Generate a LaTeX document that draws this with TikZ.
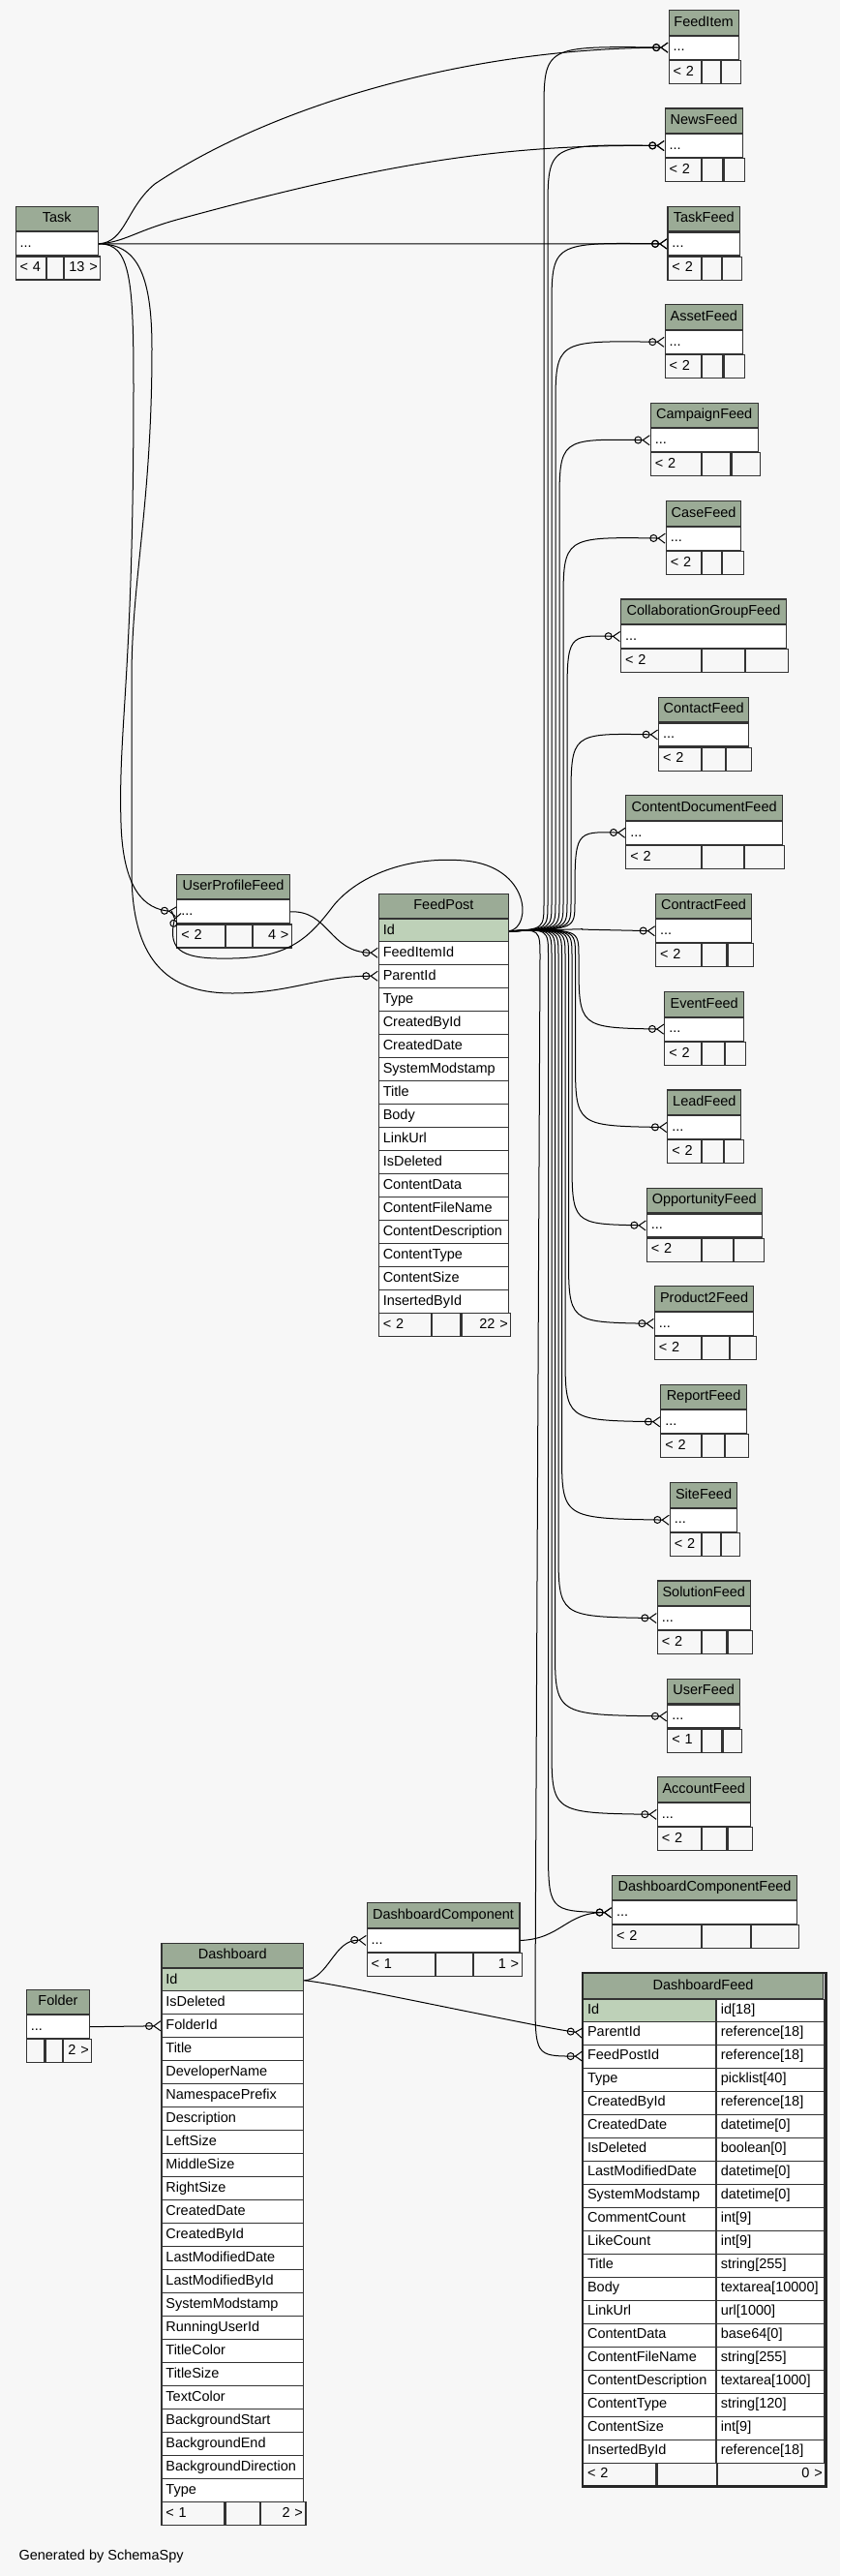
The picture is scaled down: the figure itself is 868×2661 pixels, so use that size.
\documentclass[tikz,border=0pt]{standalone}
\usepackage{fontspec}
\setmainfont{Liberation Sans}
\usetikzlibrary{arrows.meta}
\definecolor{pagebg}{HTML}{F7F7F7}
\definecolor{headgreen}{HTML}{9BAB96}
\definecolor{keygreen}{HTML}{BED1B8}
\tikzset{
  cell/.style={draw=black!80, line width=1.1pt, anchor=north west, inner xsep=4.5pt, inner ysep=0pt,
    minimum height=24pt, text height=10.5pt, text depth=3pt, font=\fontsize{14.5}{17}\selectfont},
  headcell/.style={cell, fill=headgreen, minimum height=25.5pt, align=center},
  rowcell/.style={cell, fill=white, align=left},
  keycell/.style={cell, fill=keygreen, align=left},
  footcell/.style={cell, fill=pagebg, align=left},
  footright/.style={cell, fill=pagebg, align=right, inner xsep=3pt},
  rel/.style={draw=black, line width=1pt,
    -{Circle[open,length=8pt,width=8pt,line width=1pt] Straight Barb[reversed,length=7pt,width=10pt,line width=1pt]}}
}
\begin{document}
\begin{tikzpicture}[x=1pt,y=-1pt]
\useasboundingbox (0,0) rectangle (868,2661);
\fill[pagebg] (0,0) rectangle (868,2661);
% FeedPost
\node[headcell, text width=125.3pt] (feedpost) at (390.7,922.7) {FeedPost};
\node[keycell, text width=125.3pt] (feedpost-1) at (feedpost.south west) {Id};
\foreach \fld [count=\k from 2] in {FeedItemId,ParentId,Type,CreatedById,CreatedDate,SystemModstamp,Title,Body,LinkUrl,IsDeleted,ContentData,ContentFileName,ContentDescription,ContentType,ContentSize,InsertedById}
  \node[rowcell, text width=125.3pt] (feedpost-\k) at (390.7,{947.7+24*(\k-1)}) {\fld};
\node[footcell, text width=45.3pt] (feedpost-f1) at (390.7,1355.7) {<~2};
\node[footcell, text width=20.3pt] (feedpost-f2) at (feedpost-f1.north east) {};
\node[footright, text width=44.7pt] (feedpost-f3) at (feedpost-f2.north east) {22~>};
% Task
\node[headcell, text width=76.5pt] (task) at (15.5,212.7) {Task};
\node[rowcell, text width=76.5pt] (task-r) at (task.south west) {...};
\node[footcell, text width=22.5pt] (task-f1) at (task-r.south west) {<~4};
\node[footcell, text width=7.7pt] (task-f2) at (task-f1.north east) {};
\node[footright, text width=31.3pt] (task-f3) at (task-f2.north east) {13~>};
% UserProfileFeed
\node[headcell, text width=107.4pt] (upf) at (182.3,902.7) {UserProfileFeed};
\node[rowcell, text width=107.4pt] (upf-r) at (upf.south west) {...};
\node[footcell, text width=40.4pt] (upf-f1) at (upf-r.south west) {<~2};
\node[footcell, text width=18pt] (upf-f2) at (upf-f1.north east) {};
\node[footright, text width=34pt] (upf-f3) at (upf-f2.north east) {4~>};
% Folder
\node[headcell, text width=56.3pt] (folder) at (26.8,2054.5) {Folder};
\node[rowcell, text width=56.3pt] (folder-r) at (folder.south west) {...};
\node[footcell, text width=9.6pt] (folder-f1) at (folder-r.south west) {};
\node[footcell, text width=8.1pt] (folder-f2) at (folder-f1.north east) {};
\node[footright, text width=23.6pt] (folder-f3) at (folder-f2.north east) {2~>};
% Dashboard
\node[headcell, text width=137.8pt] (dash) at (166.4,2006.7) {Dashboard};
\node[keycell, text width=137.8pt] (dash-1) at (dash.south west) {Id};
\foreach \fld [count=\k from 2] in {IsDeleted,FolderId,Title,DeveloperName,NamespacePrefix,Description,LeftSize,MiddleSize,RightSize,CreatedDate,CreatedById,LastModifiedDate,LastModifiedById,SystemModstamp,RunningUserId,TitleColor,TitleSize,TextColor,BackgroundStart,BackgroundEnd,BackgroundDirection,Type}
  \node[rowcell, text width=137.8pt] (dash-\k) at (166.4,{2032.2+24*(\k-1)}) {\fld};
\node[footcell, text width=56pt] (dash-f1) at (166.4,2584.2) {<~1};
\node[footcell, text width=26pt] (dash-f2) at (dash-f1.north east) {};
\node[footright, text width=40.8pt] (dash-f3) at (dash-f2.north east) {2~>};
% DashboardComponent
\node[headcell, text width=148.8pt] (dcomp) at (378.6,1965.3) {DashboardComponent};
\node[rowcell, text width=148.8pt] (dcomp-r) at (dcomp.south west) {...};
\node[footcell, text width=61.4pt] (dcomp-f1) at (dcomp-r.south west) {<~1};
\node[footcell, text width=28.4pt] (dcomp-f2) at (dcomp-f1.north east) {};
\node[footright, text width=44pt] (dcomp-f3) at (dcomp-f2.north east) {1~>};
% DashboardFeed
\node[headcell, text width=239pt] (dfeed) at (602,2038) {DashboardFeed};
\node[keycell, text width=127.7pt] (dfeed-1) at (dfeed.south west) {Id};
\node[rowcell, text width=102.3pt] (dfeed-1-t) at (dfeed-1.north east) {id[18]};
\foreach \fld/\typ [count=\k from 2] in {ParentId/reference[18],FeedPostId/reference[18],Type/picklist[40],CreatedById/reference[18],CreatedDate/datetime[0],IsDeleted/boolean[0],LastModifiedDate/datetime[0],SystemModstamp/datetime[0],CommentCount/int[9],LikeCount/int[9],Title/string[255],Body/textarea[10000],LinkUrl/url[1000],ContentData/base64[0],ContentFileName/string[255],ContentDescription/textarea[1000],ContentType/string[120],ContentSize/int[9],InsertedById/reference[18]}{
  \node[rowcell, text width=127.7pt] (dfeed-\k) at (602,{2063.5+24*(\k-1)}) {\fld};
  \node[rowcell, text width=102.3pt] (dfeed-\k-t) at (dfeed-\k.north east) {\typ};
}
\node[footcell, text width=66.3pt] (dfeed-f1) at (602,2543.5) {<~2};
\node[footcell, text width=52.4pt] (dfeed-f2) at (dfeed-f1.north east) {};
\node[footright, text width=105.3pt] (dfeed-f3) at (dfeed-f2.north east) {0~>};
\draw[line width=2.8pt, black!85] (dfeed.north west) rectangle (dfeed-f3.south east);
% Feed tables on the right, each linked to FeedPost
\foreach \tid/\ttl/\lx/\rx/\dx/\ft [count=\i from 0] in {
  feeditem/FeedItem/690.5/762.5/742.5/{<~2},
  newsfeed/NewsFeed/686.6/767/745.3/{<~2},
  taskfeed/TaskFeed/689.4/764/743.6/{<~2},
  assetfeed/AssetFeed/686.6/767/745.3/{<~2},
  campaignfeed/CampaignFeed/671.7/782.7/753.3/{<~2},
  casefeed/CaseFeed/687.7/765.3/744/{<~2},
  collabfeed/CollaborationGroupFeed/641/812/768/{<~2},
  contactfeed/ContactFeed/680/773.3/748/{<~2},
  contentdocfeed/ContentDocumentFeed/646.3/808/766.7/{<~2},
  contractfeed/ContractFeed/677/776/749.3/{<~2},
  eventfeed/EventFeed/686.3/768/746.7/{<~2},
  leadfeed/LeadFeed/689.3/765.3/745.7/{<~2},
  oppfeed/OpportunityFeed/667.7/786.7/756/{<~2},
  product2feed/Product2Feed/675.7/778.3/751.7/{<~2},
  reportfeed/ReportFeed/682.3/770.7/746.7/{<~2},
  sitefeed/SiteFeed/691.7/761.3/742.7/{<~2},
  solutionfeed/SolutionFeed/678.7/774.7/749.3/{<~2},
  userfeed/UserFeed/689.3/764/744.3/{<~1},
  accountfeed/AccountFeed/678.7/774.7/749.3/{<~2},
  dashcompfeed/DashboardComponentFeed/632/823/773.6/{<~2}}{
  \pgfmathsetmacro\ty{10+101.4*\i}
  \pgfmathsetmacro\wfa{\rx-\lx-9}
  \pgfmathsetmacro\wfb{724-\lx-9}
  \pgfmathsetmacro\wfc{\dx-724-9}
  \pgfmathsetmacro\wfd{\rx-\dx-9}
  \node[headcell, text width=\wfa pt] (\tid-h) at (\lx,\ty) {\ttl};
  \node[rowcell, text width=\wfa pt] (\tid) at (\tid-h.south west) {...};
  \node[footcell, text width=\wfb pt] (\tid-f1) at (\tid.south west) {\ft};
  \node[footcell, text width=\wfc pt] (\tid-f2) at (\tid-f1.north east) {};
  \node[footcell, text width=\wfd pt] (\tid-f3) at (\tid-f2.north east) {};
  \pgfmathsetmacro\cy{\ty+37.5}
  \pgfmathsetmacro\sg{abs(\cy-959.7)<5 ? 0 : sign(\cy-959.7)}
  \pgfmathsetmacro\xv{\i<9 ? 562+4*\i : 598-3.5*(\i-10)}
  \draw[rel] (feedpost-1.east) .. controls (\xv,959.7) .. (\xv,{959.7+28*(\sg)}) -- (\xv,{\cy-70*(\sg)}) .. controls (\xv,\cy) .. (\tid.west);
}
% Task links
\draw[rel] (task-r.east) .. controls (130,250) and (130,215) .. (160,190) .. controls (280,110) and (480,50) .. (feeditem.west);
\draw[rel] (task-r.east) .. controls (130,250) and (140,238) .. (190,225) .. controls (400,168) and (520,149) .. (newsfeed.west);
\draw[rel] (task-r.east) -- (taskfeed.west);
\draw[rel] (task-r.east) .. controls (135,251) and (138,290) .. (138,400) .. controls (138,700) and (122,750) .. (125,850) .. controls (127,920) and (150,939) .. (upf-r.west);
\draw[rel] (task-r.east) .. controls (140,252) and (157,280) .. (157,360) .. controls (157,520) and (136,600) .. (136,700) -- (136,900) .. controls (136,1000) and (180,1026) .. (240,1026) .. controls (300,1026) and (330,1008) .. (feedpost-3.west);
% UserProfileFeed links
\draw[rel] (feedpost-1.east) .. controls (550,958) and (548,895) .. (480,889) .. controls (420,884) and (370,905) .. (345,935) .. controls (320,968) and (300,989) .. (240,990) .. controls (190,991) and (172,984) .. (upf-r.west);
\draw[rel] (upf-r.east) .. controls (340,940) and (340,984) .. (feedpost-2.west);
\draw[rel] (feedpost-1.east) .. controls (558,959.7) .. (558,990) -- (553,2060) .. controls (553,2124) .. (dfeed-3.west);
% Dashboard links
\draw[rel] (folder-r.east) -- (dash-3.west);
\draw[rel] (dash-1.east) .. controls (340,2044) and (345,2003) .. (dcomp-r.west);
\draw[rel] (dash-1.east) .. controls (340,2047) and (560,2095) .. (dfeed-2.west);
\draw[rel] (dcomp-r.east) .. controls (580,2003) and (585,1975) .. (dashcompfeed.west);
\node[anchor=west, font=\fontsize{14.5}{17}\selectfont] (credit) at (16,2641) {Generated by SchemaSpy};
\end{tikzpicture}
\end{document}
